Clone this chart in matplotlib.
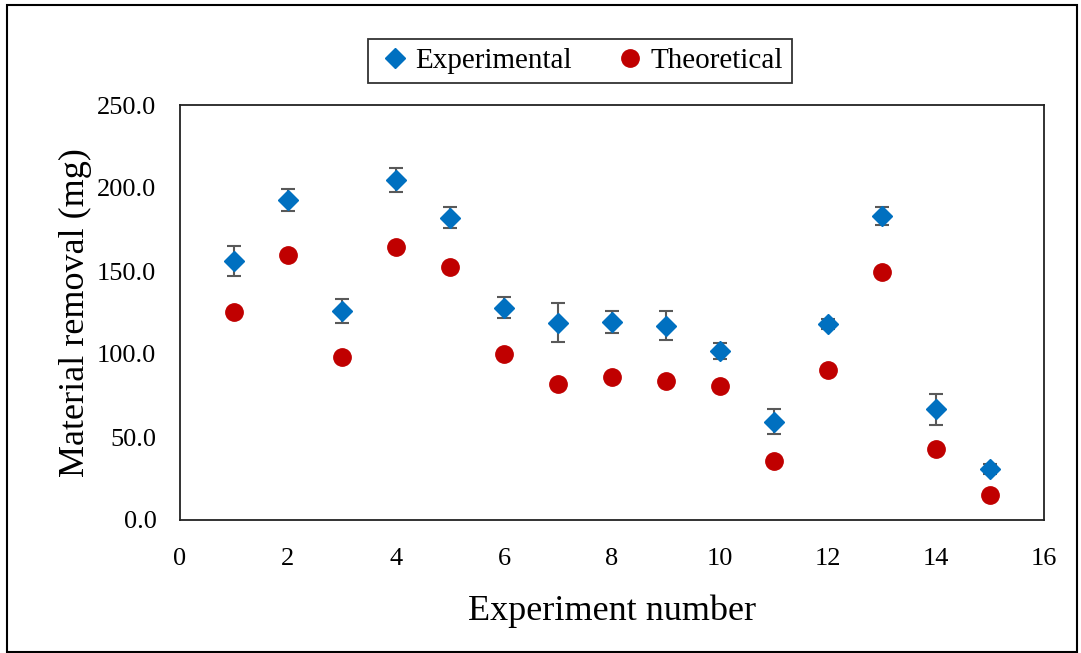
import matplotlib.pyplot as plt
from matplotlib.patches import Rectangle
from matplotlib.lines import Line2D

# data
experiment = [1, 2, 3, 4, 5, 6, 7, 8, 9, 10, 11, 12, 13, 14, 15]
experimental = [156.0, 192.6, 125.7, 204.8, 182.1, 127.9, 118.9, 119.3, 117.1, 101.8, 59.2, 118.3, 183.1, 66.7, 30.5]
exp_error = [9.3, 6.6, 7.2, 7.2, 6.2, 6.2, 11.8, 6.4, 8.8, 4.8, 7.4, 3.0, 5.2, 9.5, 3.0]
theoretical = [125.3, 159.4, 98.2, 164.5, 152.6, 100.2, 81.7, 86.3, 83.5, 80.5, 35.5, 90.4, 149.6, 42.6, 14.9]

xticks = [0, 2, 4, 6, 8, 10, 12, 14, 16]
yticks = [0, 50, 100, 150, 200, 250]

blue = '#0070C0'
red = '#C00000'

plt.rcParams['font.family'] = ['Liberation Serif', 'DejaVu Serif']

W, H = 1081, 653
fig = plt.figure(figsize=(W / 100, H / 100), dpi=100)
ax = fig.add_axes([180 / W, 1 - 520 / H, (1044 - 180) / W, (520 - 105) / H])

ax.errorbar(experiment, experimental, yerr=exp_error, fmt='D', color=blue,
            markersize=10, ecolor='#595959', elinewidth=1.5, capsize=5, capthick=1.5,
            zorder=3)
ax.plot(experiment, theoretical, 'o', color=red, markersize=12.5, zorder=3)

ax.set_xlim(0, 16)
ax.set_ylim(0, 250)
ax.set_xticks(xticks)
ax.set_yticks(yticks)
ax.set_yticklabels(['%.1f' % v for v in yticks])
ax.tick_params(length=0, labelsize=19)
ax.tick_params(axis='x', pad=20)
ax.tick_params(axis='y', pad=17)
for s in ax.spines.values():
    s.set_linewidth(1.3)
    s.set_color('#222222')

ax.set_xlabel('Experiment number', fontsize=26, labelpad=18)
ax.set_ylabel('Material removal (mg)', fontsize=26, labelpad=4)

# legend with plain markers, no error bars
handles = [Line2D([], [], ls='none', marker='D', color=blue, markersize=10),
           Line2D([], [], ls='none', marker='o', color=red, markersize=12.5)]
leg = fig.legend(handles, ['Experimental', 'Theoretical'], loc='center',
                 bbox_to_anchor=(580 / W, 1 - 61 / H), ncol=2,
                 fontsize=21, frameon=True, fancybox=False, edgecolor='black',
                 handletextpad=0.1, columnspacing=1.4, handlelength=1.2, borderpad=0.3)
leg.get_frame().set_linewidth(1.3)

# border around the whole chart
fig.patches.append(Rectangle((7 / W, 1 / H), (1077 - 7) / W, (650 - 3) / H,
                             transform=fig.transFigure, fill=False,
                             edgecolor='black', linewidth=1.5))

fig.savefig('out.png', dpi=100)
